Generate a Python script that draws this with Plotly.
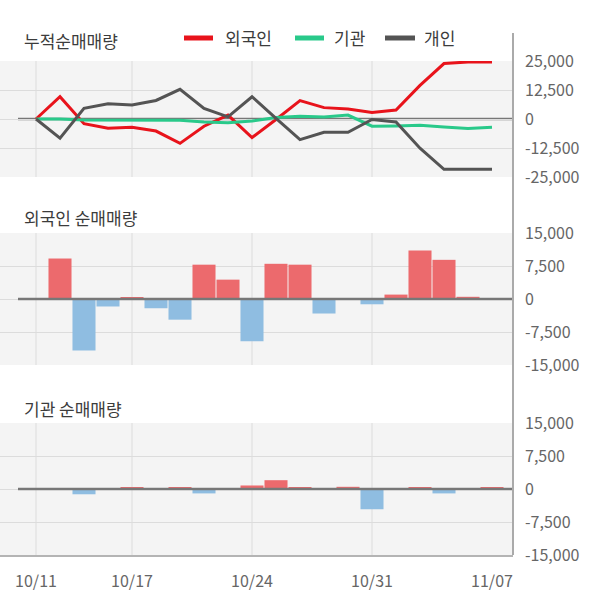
import plotly.graph_objects as go
from plotly.subplots import make_subplots

# ---- data ----
dates = ["10/11", "10/14", "10/15", "10/16", "10/17", "10/18", "10/21", "10/22", "10/23", "10/24",
         "10/25", "10/28", "10/29", "10/30", "10/31", "11/01", "11/04", "11/05", "11/06", "11/07"]

foreign_cum = [0, 9600, -2000, -4000, -3600, -5200, -10500, -3100, 1700, -8000,
               -200, 7900, 4900, 4300, 2800, 3900, 14500, 23900, 24600, 24600]
inst_cum = [0, 0, -400, -500, -500, -500, -500, -1300, -1600, -900,
            600, 1200, 900, 1700, -3100, -3000, -2700, -3500, -4100, -3600]
indiv_cum = [0, -8300, 4600, 6600, 6000, 8000, 12800, 4600, 900, 9600,
             300, -8900, -5700, -5700, -200, -1300, -12600, -21700, -21700, -21700]

foreign_daily = [0, 9200, -11700, -1700, 300, -2100, -4700, 7800, 4400, -9600,
                 8000, 7800, -3300, 0, -1200, 1000, 11000, 8900, 500, 0]
inst_daily = [0, 0, -1200, 0, 300, 0, 300, -1000, 0, 800,
              2000, 300, 0, 500, -4600, 0, 300, -1000, 0, 300]

series_names = ["외국인", "기관", "개인"]
panel_titles = ["누적순매매량", "외국인 순매매량", "기관 순매매량"]

x_tickdates = ["10/11", "10/17", "10/24", "10/31", "11/07"]
x_griddates = ["10/11", "10/17", "10/24", "10/31"]

top_tickvals = [25000, 12500, 0, -12500, -25000]
top_ticktext = ["25,000", "12,500", "0", "-12,500", "-25,000"]
bar_tickvals = [15000, 7500, 0, -7500, -15000]
bar_ticktext = ["15,000", "7,500", "0", "-7,500", "-15,000"]

# ---- style ----
W, H = 600, 604
RED, GREEN, DARK = "#e8131b", "#29c98a", "#545454"
BAR_POS, BAR_NEG = "#ec6a6d", "#8fbde1"
FONT = "Noto Sans CJK KR"
PLOT_RIGHT = 513 / W

def py(px):  # pixel from top -> paper
    return (H - px) / H

fig = make_subplots(rows=3, cols=1, shared_xaxes=True)

fig.add_trace(go.Scatter(x=dates, y=foreign_cum, mode="lines", name=series_names[0],
                         line=dict(color=RED, width=3)), row=1, col=1)
fig.add_trace(go.Scatter(x=dates, y=inst_cum, mode="lines", name=series_names[1],
                         line=dict(color=GREEN, width=3)), row=1, col=1)
fig.add_trace(go.Scatter(x=dates, y=indiv_cum, mode="lines", name=series_names[2],
                         line=dict(color=DARK, width=3)), row=1, col=1)

fig.add_trace(go.Bar(x=dates, y=foreign_daily,
                     marker=dict(color=[BAR_POS if v >= 0 else BAR_NEG for v in foreign_daily], line_width=0)),
              row=2, col=1)
fig.add_trace(go.Bar(x=dates, y=inst_daily,
                     marker=dict(color=[BAR_POS if v >= 0 else BAR_NEG for v in inst_daily], line_width=0)),
              row=3, col=1)

xr = [-1.5, 19.875]
for i, ax in enumerate(["xaxis", "xaxis2", "xaxis3"]):
    fig.layout[ax].update(type="category", range=xr, domain=[0, PLOT_RIGHT], showgrid=False,
                          zeroline=False, tickvals=x_tickdates, ticktext=x_tickdates,
                          showticklabels=(i == 2), ticks="", automargin=False,
                          tickfont=dict(family=FONT, size=16, color="#666666"))
fig.layout.xaxis3.update(showline=True, linecolor="#b4b4b4", linewidth=2, ticklabelstandoff=11)

domains = [[py(177), py(61)], [py(365), py(233)], [py(555), py(423)]]
ranges = [[-25000, 25000], [-15000, 15000], [-15000, 15000]]
tvs = [(top_tickvals, top_ticktext), (bar_tickvals, bar_ticktext), (bar_tickvals, bar_ticktext)]
for i, ax in enumerate(["yaxis", "yaxis2", "yaxis3"]):
    fig.layout[ax].update(domain=domains[i], range=ranges[i], side="right", showgrid=True,
                          gridcolor="#dcdcdc", gridwidth=1, zeroline=False,
                          tickvals=tvs[i][0], ticktext=tvs[i][1], ticks="", automargin=False,
                          ticklabelstandoff=11,
                          tickfont=dict(family=FONT, size=16, color="#666666"))

shapes = []
# vertical gridlines
for yref in ["y", "y2", "y3"]:
    xr_ = {"y": "x", "y2": "x2", "y3": "x3"}[yref]
    for d in x_griddates:
        shapes.append(dict(type="line", xref=xr_, yref=yref + " domain", x0=d, x1=d, y0=0, y1=1,
                           line=dict(color="#dcdcdc", width=1), layer="below"))
# zero lines
shapes.append(dict(type="line", xref="paper", yref="y", x0=18 / W, x1=PLOT_RIGHT, y0=0, y1=0,
                   line=dict(color="#777777", width=2.5), layer="between"))
for yref in ["y2", "y3"]:
    shapes.append(dict(type="line", xref="paper", yref=yref, x0=18 / W, x1=PLOT_RIGHT, y0=0, y1=0,
                       line=dict(color="#777777", width=2.5), layer="above"))
# right vertical axis line
shapes.append(dict(type="line", xref="paper", yref="paper", x0=PLOT_RIGHT, x1=PLOT_RIGHT,
                   y0=py(555), y1=py(33), line=dict(color="#aaaaaa", width=2)))

# legend swatches
legend_items = [(184, 213, 223, RED), (295, 324, 332, GREEN), (385, 415, 422, DARK)]
annotations = []
for (x0, x1, tx, col), name in zip(legend_items, series_names):
    shapes.append(dict(type="line", xref="paper", yref="paper", x0=x0 / W, x1=x1 / W,
                       y0=py(38), y1=py(38), line=dict(color=col, width=5)))
    annotations.append(dict(text=name, xref="paper", yref="paper", x=tx / W, y=py(38),
                            xanchor="left", yanchor="middle", showarrow=False,
                            font=dict(family=FONT, size=17, color="#3c3c3c")))

for t, yy in zip(panel_titles, [40, 218, 408]):
    annotations.append(dict(text=t, xref="paper", yref="paper", x=22 / W, y=py(yy),
                            xanchor="left", yanchor="middle", showarrow=False,
                            font=dict(family=FONT, size=17, color="#3c3c3c")))

fig.update_layout(width=W, height=H, margin=dict(l=0, r=0, t=0, b=0, pad=0, autoexpand=False),
                  paper_bgcolor="white", plot_bgcolor="#f4f4f4",
                  showlegend=False, bargap=0.04,
                  shapes=shapes, annotations=annotations)

fig.write_html("out.html")
